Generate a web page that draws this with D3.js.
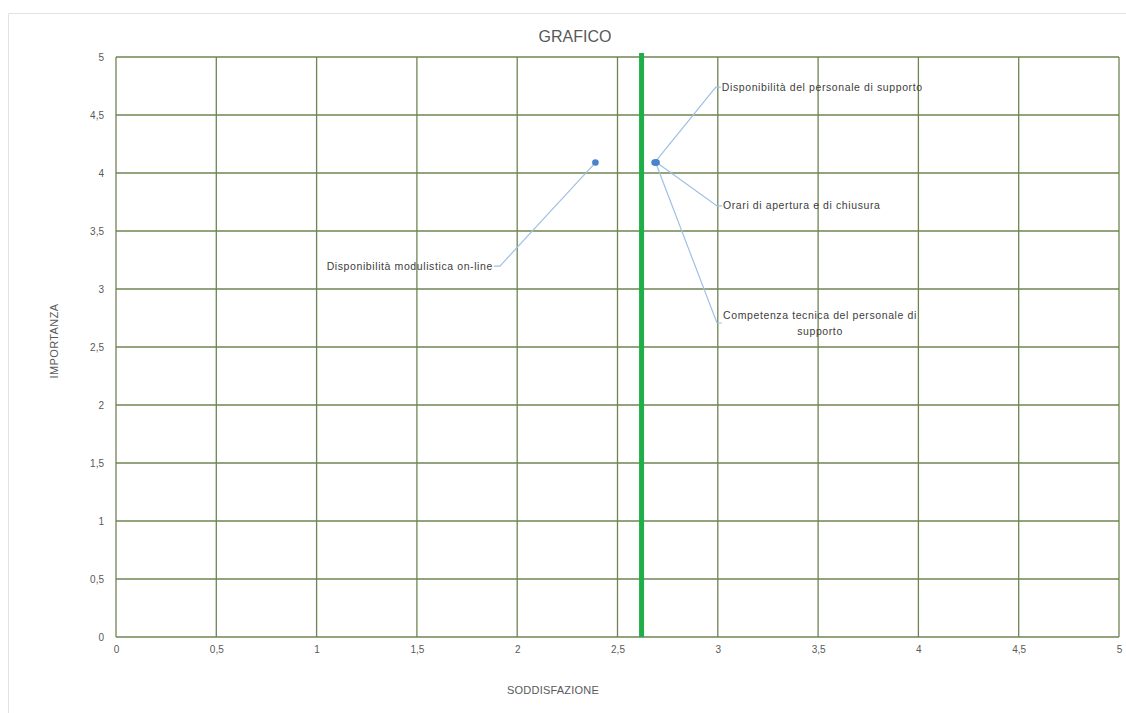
<!DOCTYPE html>
<html>
<head>
<meta charset="utf-8">
<script src="https://cdn.jsdelivr.net/npm/d3@7"></script>
<style>
  html, body { margin: 0; padding: 0; background: #fff; }
  svg { display: block; }
  text { font-family: "Liberation Sans", Arial, sans-serif; }
</style>
</head>
<body>
<svg id="chart" width="1126" height="713"></svg>
<script>
// ---- data ----
const titleText = "GRAFICO";
const xAxisTitle = "SODDISFAZIONE";
const yAxisTitle = "IMPORTANZA";
const itemNames = [
  "Disponibilità modulistica on-line",
  "Disponibilità del personale di supporto",
  "Orari di apertura e di chiusura",
  "Competenza tecnica del personale di supporto"
];
const soddisfazione = [2.39, 2.685, 2.695, 2.69];
const importanza = [4.09, 4.09, 4.09, 4.09];
const meanSoddisfazione = 2.62;
const xTicks = [0, 0.5, 1, 1.5, 2, 2.5, 3, 3.5, 4, 4.5, 5];
const yTicks = [0, 0.5, 1, 1.5, 2, 2.5, 3, 3.5, 4, 4.5, 5];

// ---- layout ----
const svg = d3.select("#chart");
const mLeft = 116, mRight = 1119, mTop = 57, mBottom = 637;
const x = d3.scaleLinear().domain([0, 5]).range([mLeft, mRight]);
const y = d3.scaleLinear().domain([0, 5]).range([mBottom, mTop]);
const fmt = d => String(d).replace(".", ",");
const gridColor = "#6e8452";
const textColor = "#595959";

// chart border
svg.append("path")
  .attr("d", "M8.5,713 L8.5,13.5 L1126,13.5")
  .attr("fill", "none").attr("stroke", "#e3e3e3").attr("stroke-width", 1);

// title
svg.append("text").attr("x", 575).attr("y", 42)
  .attr("text-anchor", "middle").attr("font-size", 16)
  .attr("fill", textColor).text(titleText);

// grid
const g = svg.append("g");
g.selectAll(".vx").data(xTicks).join("line")
  .attr("x1", d => x(d)).attr("x2", d => x(d))
  .attr("y1", y(0)).attr("y2", y(5))
  .attr("stroke", gridColor).attr("stroke-width", 1.3);
g.selectAll(".hy").data(yTicks).join("line")
  .attr("y1", d => y(d)).attr("y2", d => y(d))
  .attr("x1", x(0)).attr("x2", x(5))
  .attr("stroke", gridColor).attr("stroke-width", 1.3);

// axes (labels only)
const xAxis = d3.axisBottom(x).tickValues(xTicks).tickFormat(fmt).tickSize(0).tickPadding(9);
const gx = svg.append("g").attr("transform", `translate(0,${mBottom})`).call(xAxis);
gx.select(".domain").remove();
gx.selectAll("text").attr("font-size", 10).attr("fill", textColor)
  .style("font-family", "'Liberation Sans', Arial, sans-serif");

const yAxis = d3.axisLeft(y).tickValues(yTicks).tickFormat(fmt).tickSize(0).tickPadding(10);
const gy = svg.append("g").attr("transform", `translate(${mLeft - 2},0)`).call(yAxis);
gy.select(".domain").remove();
gy.selectAll("text").attr("font-size", 10).attr("fill", textColor)
  .style("font-family", "'Liberation Sans', Arial, sans-serif");

// axis titles
svg.append("text").attr("x", 553).attr("y", 694)
  .attr("text-anchor", "middle").attr("font-size", 11)
  .attr("letter-spacing", 0.2)
  .attr("fill", textColor).text(xAxisTitle);
svg.append("text")
  .attr("transform", `translate(58,341) rotate(-90)`)
  .attr("text-anchor", "middle").attr("font-size", 11)
  .attr("letter-spacing", 0.4)
  .attr("fill", textColor).text(yAxisTitle);

// mean line
svg.append("line")
  .attr("x1", x(meanSoddisfazione)).attr("x2", x(meanSoddisfazione))
  .attr("y1", y(5) - 4).attr("y2", y(0))
  .attr("stroke", "#1fae48").attr("stroke-width", 5);

// data
const points = itemNames.map((n, i) => ({ name: n, sx: soddisfazione[i], iy: importanza[i] }));

// label anchors (data units) and text placement
const labelCfg = [
  { ax: 1.914, ay: 3.198, side: "left",  lines: ["Disponibilità modulistica on-line"] },
  { ax: 2.99,  ay: 4.74,  side: "right", lines: ["Disponibilità del personale di supporto"] },
  { ax: 2.996, ay: 3.716, side: "right", lines: ["Orari di apertura e di chiusura"] },
  { ax: 2.996, ay: 2.707, side: "right", lines: ["Competenza tecnica del personale di", "supporto"] }
];

const leaderColor = "#9fc0e4";
const lg = svg.append("g");
points.forEach((p, i) => {
  const c = labelCfg[i];
  const px = x(p.sx), py = y(p.iy);
  const ex = x(c.ax), ey = y(c.ay);
  const hx = c.side === "left" ? ex - 6 : ex + 5;
  lg.append("polyline")
    .attr("points", `${px},${py} ${ex},${ey} ${hx},${ey}`)
    .attr("fill", "none").attr("stroke", leaderColor).attr("stroke-width", 1.2);
  const t = lg.append("text").attr("font-size", 10.5).attr("fill", "#404040")
    .attr("letter-spacing", 0.6);
  if (c.lines.length === 1) {
    t.attr("x", c.side === "left" ? hx - 1 : hx + 1).attr("y", ey + 3.5)
      .attr("text-anchor", c.side === "left" ? "end" : "start")
      .text(c.lines[0]);
  } else {
    const cx = hx + 1 + 97;
    c.lines.forEach((l, k) => {
      t.append("tspan").attr("x", cx).attr("y", ey - 4 + k * 16)
        .attr("text-anchor", "middle").text(l);
    });
  }
});

// points
svg.append("g").selectAll("circle").data(points).join("circle")
  .attr("cx", d => x(d.sx)).attr("cy", d => y(d.iy)).attr("r", 3.3)
  .attr("fill", "#4a84c9");
</script>
</body>
</html>
